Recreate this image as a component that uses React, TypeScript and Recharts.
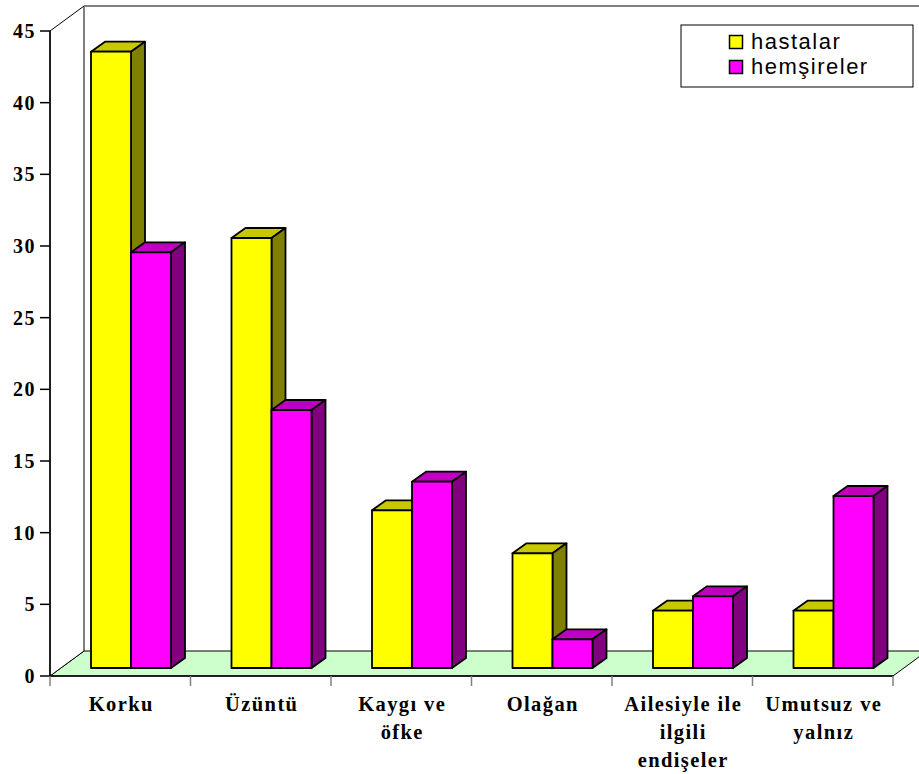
import React from 'react';
import { BarChart, Bar, XAxis, YAxis, Customized } from 'recharts';

// ---- data ----
const categories = ['Korku', 'Üzüntü', 'Kaygı ve\nöfke', 'Olağan', 'Ailesiyle ile\nilgili\nendişeler', 'Umutsuz ve\nyalnız'];
const hastalar = [43, 30, 11, 8, 4, 4];
const hemsireler = [29, 18, 13, 2, 5, 12];
const seriesNames = ['hastalar', 'hemşireler'];
const yTicks = [0, 5, 10, 15, 20, 25, 30, 35, 40, 45];

const data = categories.map((c, i) => ({ name: c, hastalar: hastalar[i], hemsireler: hemsireler[i] }));

// ---- layout ----
const W = 919;
const H = 774;
const MARGIN = { top: 31, right: 26, left: 0, bottom: 8 };
const Y_W = 50;
const X_H = 90;
const PLOT_L = MARGIN.left + Y_W;
const PLOT_R = W - MARGIN.right;
const PLOT_T = MARGIN.top;
const PLOT_B = H - MARGIN.bottom - X_H;
const BAND = (PLOT_R - PLOT_L) / categories.length;
const DX = 34; // wall depth
const DY = 25;
const BX = 11; // bar depth offset
const BY = 8;
const BDX = 14; // bar depth
const BDY = 10;

const SERIF = "'Liberation Serif', 'Times New Roman', serif";
const SANS = "'Liberation Sans', Arial, sans-serif";

const COLORS = [
  { front: '#FFFF00', top: '#C8C800', side: '#808000' },
  { front: '#FF00FF', top: '#C000C0', side: '#800080' },
];

function Box3D(props: any) {
  const { x, y, width, height, c } = props;
  if (width == null || height == null) return null;
  const w = width;
  const h = height;
  const x0 = x + BX;
  const y0 = y - BY;
  const common = { stroke: '#000', strokeWidth: 1.8, strokeLinejoin: 'round' as const };
  return (
    <g>
      <path d={`M${x0},${y0}L${x0 + BDX},${y0 - BDY}L${x0 + w + BDX},${y0 - BDY}L${x0 + w},${y0}Z`} fill={c.top} {...common} />
      <path d={`M${x0 + w},${y0}L${x0 + w + BDX},${y0 - BDY}L${x0 + w + BDX},${y0 + h - BDY}L${x0 + w},${y0 + h}Z`} fill={c.side} {...common} />
      <path d={`M${x0},${y0}h${w}v${h}h${-w}Z`} fill={c.front} {...common} />
    </g>
  );
}

function Background() {
  return (
    <g>
      {/* floor */}
      <path
        d={`M${PLOT_L},${PLOT_B}L${PLOT_R},${PLOT_B}L${PLOT_R + DX},${PLOT_B - DY}L${PLOT_L + DX},${PLOT_B - DY}Z`}
        fill="#CCFFCC"
        stroke="#000"
        strokeWidth={1}
      />
      {/* left wall */}
      <path
        d={`M${PLOT_L},${PLOT_B}L${PLOT_L},${PLOT_T}L${PLOT_L + DX},${PLOT_T - DY}L${PLOT_L + DX},${PLOT_B - DY}Z`}
        fill="#FFFFFF"
        stroke="#000"
        strokeWidth={1}
      />
      {/* back wall top edge */}
      <line x1={PLOT_L + DX} y1={PLOT_T - DY} x2={W} y2={PLOT_T - DY} stroke="#808080" strokeWidth={2} />
      {/* legend */}
      <rect x={681} y={25} width={232} height={62} fill="#fff" stroke="#000" strokeWidth={1} />
      {seriesNames.map((n, i) => (
        <g key={n}>
          <rect x={729.5} y={35.5 + i * 25} width={13} height={13} fill={COLORS[i].front} stroke="#000" strokeWidth={1.5} />
          <text x={751} y={49 + i * 24.5} fontFamily={SANS} fontSize={22} letterSpacing={1.5} fill="#000">
            {n}
          </text>
        </g>
      ))}
    </g>
  );
}

function XTick(props: any) {
  const { x, index, payload } = props;
  const lines = String(payload.value).split('\n');
  const left = x - BAND / 2;
  return (
    <g>
      <line x1={left} y1={PLOT_B} x2={left} y2={PLOT_B + 10} stroke="#808080" strokeWidth={1.5} />
      {index === categories.length - 1 && (
        <line x1={x + BAND / 2} y1={PLOT_B} x2={x + BAND / 2} y2={PLOT_B + 10} stroke="#808080" strokeWidth={1.5} />
      )}
      <text textAnchor="middle" fontFamily={SERIF} fontWeight="bold" fontSize={20.5} letterSpacing={1.4} fill="#000">
        {lines.map((l, i) => (
          <tspan key={i} x={x + 1} y={PLOT_B + 35 + i * 28}>
            {l}
          </tspan>
        ))}
      </text>
    </g>
  );
}

export default function App() {
  return (
    <div style={{ position: 'absolute', left: 0, top: 0, background: '#fff' }}>
      <BarChart width={W} height={H} data={data} margin={MARGIN} barGap={0} barSize={40}>
        <Customized component={<Background />} />
        <XAxis
          dataKey="name"
          height={X_H}
          interval={0}
          tickLine={false}
          axisLine={{ stroke: '#000', strokeWidth: 1.5 }}
          tick={<XTick />}
        />
        <YAxis
          width={Y_W}
          domain={[0, 45]}
          ticks={yTicks}
          interval={0}
          tickSize={10}
          tickMargin={4}
          axisLine={{ stroke: '#000', strokeWidth: 1.5 }}
          tickLine={{ stroke: '#000', strokeWidth: 1.5 }}
          tick={{ fontFamily: SERIF, fontWeight: 'bold', fontSize: 20, fill: '#000', letterSpacing: 1.5 }}
        />
        <Bar dataKey="hastalar" isAnimationActive={false} shape={(p: any) => <Box3D {...p} c={COLORS[0]} />} />
        <Bar dataKey="hemsireler" isAnimationActive={false} shape={(p: any) => <Box3D {...p} c={COLORS[1]} />} />
      </BarChart>
    </div>
  );
}
